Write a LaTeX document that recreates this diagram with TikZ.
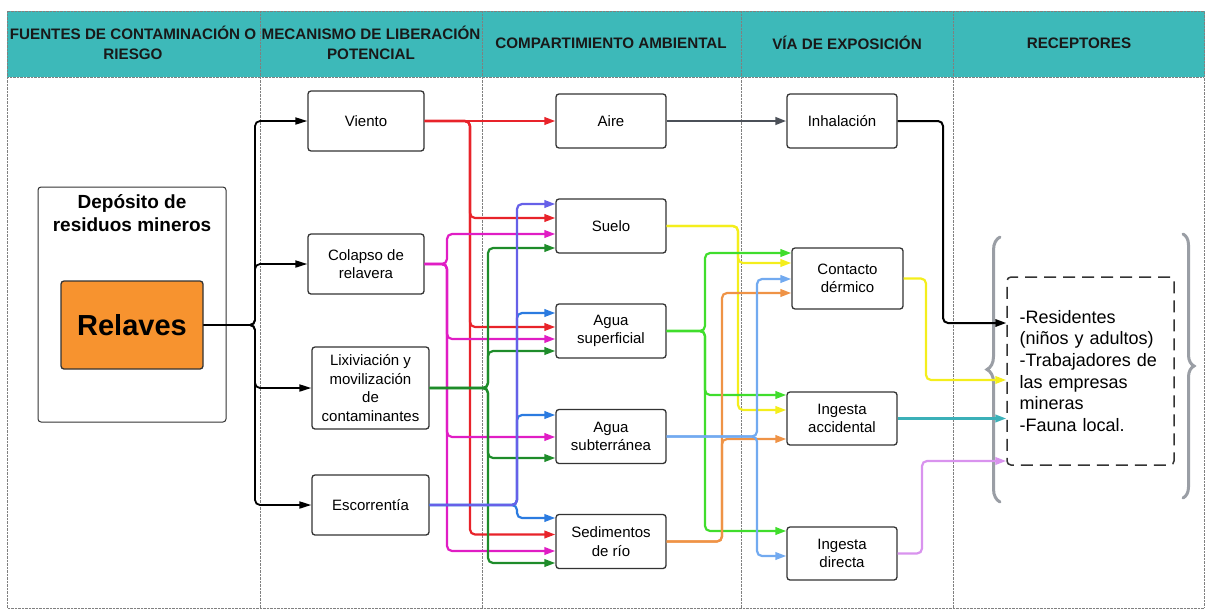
\documentclass[tikz,border=0pt]{standalone}
\usepackage{fontspec}
\setmainfont{Liberation Sans}
\usetikzlibrary{arrows.meta,calc,decorations.pathreplacing}

\definecolor{headteal}{HTML}{3DB9B9}
\definecolor{boxline}{HTML}{333333}
\definecolor{relorange}{HTML}{F7932F}
\definecolor{lnred}{HTML}{E8232A}
\definecolor{lnmag}{HTML}{E01DC4}
\definecolor{lngreen}{HTML}{1E8C2A}
\definecolor{lnslate}{HTML}{6660E8}
\definecolor{lnblue}{HTML}{2B7BE0}
\definecolor{lngray}{HTML}{4B5058}
\definecolor{lnyellow}{HTML}{F4EE1C}
\definecolor{lnlime}{HTML}{40DD2C}
\definecolor{lnsky}{HTML}{72AAF0}
\definecolor{lnorange}{HTML}{EF9346}
\definecolor{lnteal}{HTML}{3BB0B8}
\definecolor{lnlilac}{HTML}{D993EE}
\definecolor{bracegray}{HTML}{9A9EA5}

\tikzset{
  box/.style={draw=boxline, line width=1.3pt, rounded corners=3pt, fill=white,
    align=center, inner sep=0pt, font=\fontsize{15}{18.5}\selectfont},
  mech/.style={box, minimum width=116pt, minimum height=60pt},
  comp/.style={box, minimum width=110pt, minimum height=54pt},
  head/.style={font=\bfseries\fontsize{15.2}{20}\selectfont, align=center, text=black!90},
  link/.style={line width=2.2pt, rounded corners=5pt, -{Triangle[length=11pt,width=7.5pt]}},
  gbrace/.style={bracegray, line width=3pt, line cap=round, decorate},
}

\begin{document}
\begin{tikzpicture}[x=1pt,y=-1pt]
    \useasboundingbox (0,0) rectangle (1205,611);

    % Header and columns
    \fill[headteal] (7,11) rectangle (1205,77);
    \draw[densely dotted, gray] (7,11) rectangle (1204,608);
    \draw[densely dotted, gray] (7,77) -- (1204,77);
    \foreach \x in {260,482,741,953}
        \draw[densely dotted, gray] (\x,11) -- (\x,608);

    \node[head] (hFuentes) at (133,43) {FUENTES DE CONTAMINACIÓN O\\RIESGO};
    \node[head] (hMecan) at (371,43) {MECANISMO DE LIBERACIÓN\\POTENCIAL};
    \node[head] (hComp) at (611,43) {COMPARTIMIENTO AMBIENTAL};
    \node[head] (hVia) at (847,43) {VÍA DE EXPOSICIÓN};
    \node[head] (hRecep) at (1079,43) {RECEPTORES};

    % Source
    \node[draw=boxline, line width=1pt, rounded corners=3pt, minimum width=188pt,
        minimum height=235pt] (deposito) at (132,304.5) {};
    \node[font=\bfseries\fontsize{19}{23}\selectfont, align=center] (depTitle)
        at (132,213.5) {Depósito de\\residuos mineros};
    \node[box, fill=relorange, minimum width=142pt, minimum height=88pt,
        font=\bfseries\fontsize{29}{34}\selectfont] (relaves) at (132,325) {Relaves};

    % Release mechanisms
    \node[mech] (viento) at (366,121) {Viento};
    \node[mech] (colapso) at (366,264) {Colapso de\\relavera};
    \node[mech, minimum width=117pt, minimum height=82pt] (lixiv) at (370.5,388)
        {Lixiviación y\\movilización\\de\\contaminantes};
    \node[mech, minimum width=117pt] (escorr) at (370.5,505) {Escorrentía};

    % Environmental compartments
    \node[comp] (aire) at (611,121) {Aire};
    \node[comp] (suelo) at (611,226) {Suelo};
    \node[comp] (aguasup) at (611,331) {Agua\\superficial};
    \node[comp] (aguasub) at (611,436.5) {Agua\\subterránea};
    \node[comp] (sedim) at (611,541.5) {Sedimentos\\de río};

    % Exposure routes
    \node[comp] (inhal) at (842,121) {Inhalación};
    \node[comp, minimum width=111pt, minimum height=61pt] (contacto) at (847.5,278.5) {Contacto\\dérmico};
    \node[comp, minimum height=53pt] (ingacc) at (842,418.5) {Ingesta\\accidental};
    \node[comp, minimum height=53pt] (ingdir) at (842,553.5) {Ingesta\\directa};

    % Receptors
    \node[draw=boxline, line width=1.5pt, dash pattern=on 12pt off 7pt, rounded corners=4pt,
        minimum width=167pt, minimum height=188pt, text width=142pt, align=left,
        inner sep=0pt, font=\fontsize{18}{21.7}\selectfont] (recep) at (1090.5,371)
        {-Residentes\\(niños y adultos)\\-Trabajadores de\\las empresas\\mineras\\-Fauna local.};
    \draw[gbrace, decoration={brace, amplitude=13pt}] (1000,502) -- (1000,237);
    \draw[gbrace, decoration={brace, amplitude=11pt}] (1183,234) -- (1183,498);

    % Bus lines
    \coordinate (bK) at (255,0);
    \coordinate (bR) at (470,0);
    \coordinate (bM) at (447,0);
    \coordinate (bG) at (488,0);
    \coordinate (bB) at (517,0);
    \coordinate (bY) at (738,0);
    \coordinate (bL) at (705,0);
    \coordinate (bS) at (757,0);
    \coordinate (bO) at (722,0);
    \coordinate (bI) at (943,0);
    \coordinate (bC) at (926,0);
    \coordinate (bD) at (922,0);

    % Tailings to mechanisms
    \foreach \t in {viento,colapso,lixiv,escorr}
        \draw[link, black, line width=1.8pt, -{Triangle[length=12pt,width=7pt]}]
            (relaves.east) -- (relaves.east -| bK) |- (\t.west);

    % Mechanisms to compartments
    \draw[link, lnred] (viento.east) -- (aire.west);
    \foreach \t/\d in {suelo/-8,aguasup/-4,sedim/-7}
        \draw[link, lnred] (viento.east) -- (viento.east -| bR) |- ($(\t.west)+(0,\d)$);
    \foreach \t/\d in {suelo/8,aguasup/8,aguasub/0.5,sedim/9.5}
        \draw[link, lnmag] (colapso.east) -- (colapso.east -| bM) |- ($(\t.west)+(0,\d)$);
    \foreach \t/\d in {suelo/22,aguasup/20,aguasub/21.5,sedim/21.5}
        \draw[link, lngreen] (lixiv.east) -- (lixiv.east -| bG) |- ($(\t.west)+(0,\d)$);
    \foreach \t/\d in {aguasup/-18,aguasub/-21.5,sedim/-23.5}
        \draw[link, lnblue] (escorr.east) -- (escorr.east -| bB) |- ($(\t.west)+(0,\d)$);
    \draw[link, lnslate] (escorr.east) -- (escorr.east -| bB) |- ($(suelo.west)+(0,-22)$);

    % Compartments to exposure routes
    \draw[link, lngray, line width=2.5pt] (aire.east) -- (inhal.west);
    \foreach \t/\d in {contacto/-15.5,ingacc/-8.5}
        \draw[link, lnyellow] (suelo.east) -- (suelo.east -| bY) |- ($(\t.west)+(0,\d)$);
    \foreach \t/\d in {contacto/-25.5,ingacc/-23.5,ingdir/-22.5}
        \draw[link, lnlime] (aguasup.east) -- (aguasup.east -| bL) |- ($(\t.west)+(0,\d)$);
    \foreach \t/\d in {contacto/14.5,ingacc/20.5}
        \draw[link, lnorange] (sedim.east) -- (sedim.east -| bO) |- ($(\t.west)+(0,\d)$);
    \foreach \t/\d in {contacto/0.5,ingdir/2.5}
        \draw[link, lnsky] (aguasub.east) -- (aguasub.east -| bS) |- ($(\t.west)+(0,\d)$);

    % Exposure routes to receptors
    \draw[link, black, line width=2pt] (inhal.east) -- (inhal.east -| bI) |- ($(recep.west)+(0,-48)$);
    \draw[link, lnyellow] (contacto.east) -- (contacto.east -| bC) |- ($(recep.west)+(0,9)$);
    \draw[link, lnteal] (ingacc.east) -- (ingacc.east -| recep.west);
    \draw[link, lnlilac] (ingdir.east) -- (ingdir.east -| bD) |- ($(recep.west)+(0,90)$);
\end{tikzpicture}
\end{document}
